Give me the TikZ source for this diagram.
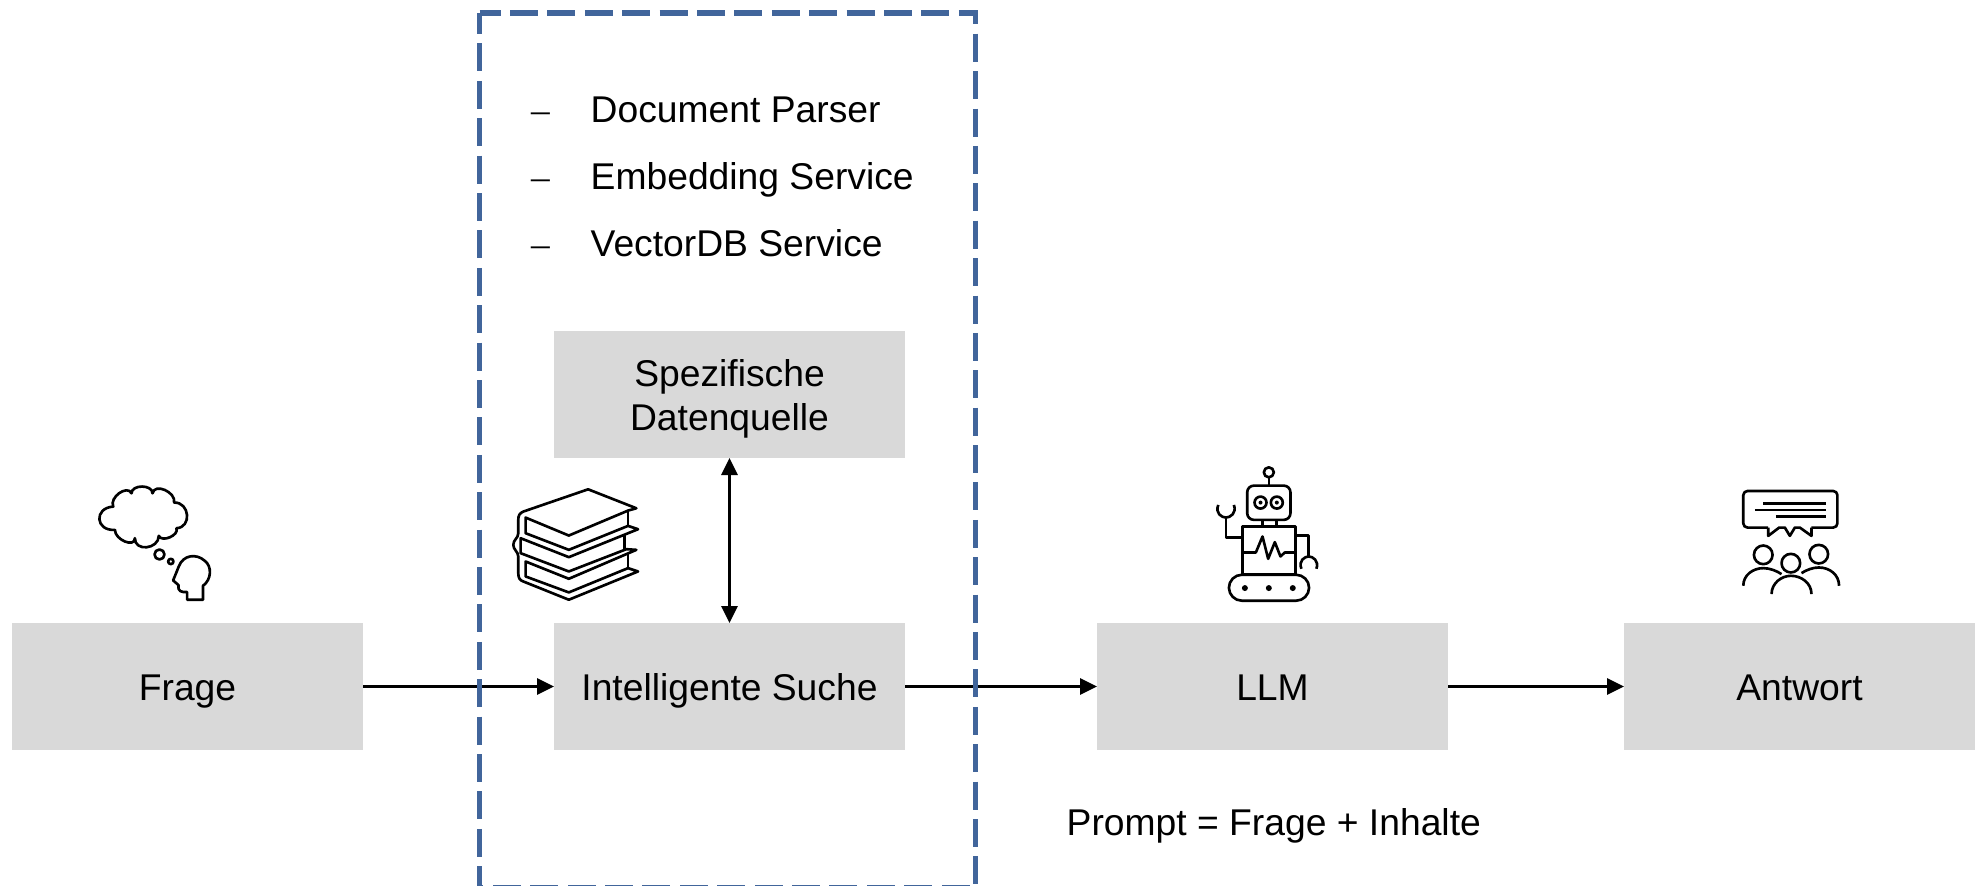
\documentclass[tikz,border=0pt]{standalone}
\usepackage{fontspec}
\usepackage{tikz}
\usetikzlibrary{arrows.meta}
\setmainfont{Liberation Sans}
\newfontfamily\dashfont{Liberation Serif}
\definecolor{boxgray}{HTML}{D9D9D9}
\definecolor{frameblue}{HTML}{41659B}
\tikzset{
    stepbox/.style={fill=boxgray, minimum width=3.51cm, minimum height=1.27cm, inner sep=0pt, outer sep=0pt, align=center, text height=0.27cm, text depth=0pt},
    flow/.style={line width=0.8pt, -{Triangle[length=0.17cm, width=0.16cm]}},
    frameline/.style={draw=frameblue, line width=1.6pt, dash pattern=on 0.28cm off 0.094cm, dash phase=0.07cm},
    item/.style={anchor=base west, inner sep=0pt},
    icon/.style={x=0.003333cm, y=-0.003333cm, line width=0.75pt, line join=round},
}

\begin{document}
\begin{tikzpicture}[x=1cm, y=-1cm, font=\fontsize{10.6}{12.66}\selectfont]
    \useasboundingbox (0, 0) rectangle (19.77, 8.85);

    \node (frage) [stepbox] at (1.875, 6.865) {Frage};
    \node (suche) [stepbox] at (7.295, 6.865) {Intelligente Suche};
    \node (quelle) [stepbox, text height=0.725cm] at (7.295, 3.945) {Spezifische\\Datenquelle};
    \node (llm) [stepbox] at (12.725, 6.865) {LLM};
    \node (antwort) [stepbox] at (17.995, 6.865) {Antwort};

    \draw[flow] (frage) -- (suche);
    \draw[flow] (suche) -- (llm);
    \draw[flow] (llm) -- (antwort);
    \draw[flow, {Triangle[length=0.17cm, width=0.16cm]}-{Triangle[length=0.17cm, width=0.16cm]}] (quelle) -- (suche);

    % dashed frame, runs off the bottom of the page
    \coordinate (frametl) at (4.796, 0.13);
    \coordinate (frametr) at (9.755, 0.13);
    \coordinate (framebr) at (9.755, 8.88);
    \coordinate (framebl) at (4.796, 8.88);
    \draw[frameline] (frametl) -- (frametr) -- (framebr) -- (framebl);
    \draw[frameline] (frametl) -- (framebl);

    \foreach \name/\txt/\base in {parser/Document Parser/1.227, embedding/Embedding Service/1.89, vectordb/VectorDB Service/2.56} {
        \node (\name dash) [item] at (5.305, \base) {\dashfont\textendash};
        \node (\name) [item] at (5.90, \base) {\txt};
    }
    \node (prompt) [item] at (10.66, 8.35) {Prompt = Frage + Inhalte};

    % thinking head
    \begin{scope}[shift={(0.8, 4.6)}, icon]
        \draw (105,210) .. controls (46,214) and (41,144) .. (100,140)
            .. controls (87,113) and (142,73) .. (155,100)
            .. controls (155,73) and (218,73) .. (218,100)
            .. controls (224,68) and (289,96) .. (283,128)
            .. controls (330,126) and (337,203) .. (290,205)
            .. controls (299,226) and (246,249) .. (237,228)
            .. controls (236,269) and (164,276) .. (165,235)
            .. controls (165,265) and (105,240) .. cycle;
        \draw (239,284) circle[radius=15];
        \draw (273,305) circle[radius=8];
        \draw (322,420) -- (370,420) -- (370,378) .. controls (395,360) and (398,320) .. (375,303)
            .. controls (350,280) and (310,285) .. (297,320) -- (280,362) -- (296,376)
            .. controls (293,395) and (305,398) .. (322,397) -- cycle;
    \end{scope}

    % books
    \begin{scope}[shift={(4.9, 4.7)}, icon]
        \draw (107,143) -- (237,197) -- (415,122) -- (440,115) -- (295,58) -- (100,125)
            .. controls (88,130) and (85,138) .. (85,150) -- (85,190)
            .. controls (85,205) and (70,210) .. (70,225)
            .. controls (70,240) and (85,245) .. (85,260) -- (85,310)
            .. controls (85,325) and (90,332) .. (100,335) -- (237,390) -- (445,305) -- (415,295)
            -- (237,368) -- (107,320) -- (107,275) -- (237,327) -- (440,240) -- (410,238)
            -- (237,305) -- (92,250) -- (92,205) -- (237,262) -- (445,178) -- (415,168)
            -- (237,240) -- (107,190) -- cycle;
        \draw (415,122) -- (415,168);
        \draw (405,195) -- (405,238);
        \draw (415,250) -- (415,295);
    \end{scope}

    % robot
    \begin{scope}[shift={(11.9, 4.55)}, icon]
        \draw (237,52) circle[radius=15];
        \draw (237,67) -- (237,92);
        \draw[rounded corners=1.9pt] (172,92) rectangle (302,195);
        \foreach \eye in {212, 261} {
            \draw (\eye,143) circle[radius=18];
            \fill (\eye,143) circle[radius=6];
        }
        \draw (218,195) -- (218,215);
        \draw (260,195) -- (260,215);
        \draw (157,215) rectangle (318,360);
        \draw (157,293) -- (198,293) -- (218,245) -- (235,312) -- (255,262) -- (272,305) -- (285,293) -- (318,293);
        \draw (157,248) -- (108,248) -- (108,188);
        \draw (85,150) .. controls (75,175) and (95,188) .. (108,188) .. controls (121,188) and (141,175) .. (132,150);
        \draw (318,242) -- (357,242) -- (357,305);
        \draw (335,342) .. controls (325,318) and (345,305) .. (357,305) .. controls (369,305) and (389,318) .. (380,342);
        \draw[rounded corners=3.7pt] (117,360) rectangle (358,438);
        \foreach \wheel in {165, 237, 309} {
            \fill (\wheel,400) circle[radius=9];
        }
    \end{scope}

    % audience
    \begin{scope}[shift={(17.2, 4.75)}, icon]
        \draw[rounded corners=1.2pt] (145,158) -- (70,158) -- (70,48) -- (353,48) -- (353,158) -- (275,158);
        \draw (145,158) -- (145,183) -- (178,158) -- (195,158) -- (210,183) -- (225,158) -- (240,158) -- (275,183) -- (275,158);
        \draw (130,85) -- (318,85);
        \draw (105,105) -- (318,105);
        \draw (168,124) -- (318,124);
        \draw (130,240) circle[radius=28];
        \draw (297,238) circle[radius=28];
        \draw (213,265) circle[radius=28];
        \draw (70,333) .. controls (70,300) and (100,280) .. (130,280) .. controls (150,280) and (170,288) .. (185,298);
        \draw (245,295) .. controls (260,285) and (280,278) .. (297,278) .. controls (330,278) and (358,300) .. (358,333);
        \draw (155,358) .. controls (155,325) and (185,303) .. (213,303) .. controls (245,303) and (275,325) .. (275,358);
    \end{scope}
\end{tikzpicture}
\end{document}
